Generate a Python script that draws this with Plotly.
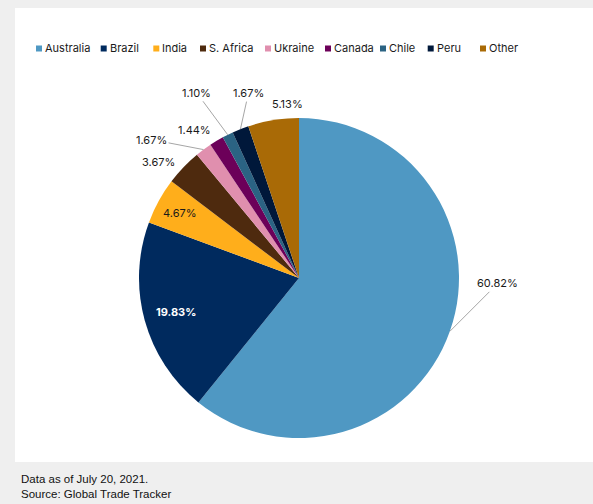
import math
import plotly.graph_objects as go

# ---- data ----
labels = ["Australia", "Brazil", "India", "S. Africa", "Ukraine", "Canada", "Chile", "Peru", "Other"]
shares = [60.82, 19.83, 4.67, 3.67, 1.67, 1.44, 1.10, 1.67, 5.13]
colors = ["#4f98c3", "#002a5e", "#ffae1b", "#4e2a0e", "#e08fae", "#6c0059", "#2b6383", "#00183a", "#a96a06"]

# ---- label styling (layout only) ----
# mode: "in" = inside at radius fraction; "out" = outside with pixel offset from slice edge
label_mode = ["out", "in", "in", "out", "out", "out", "out", "out", "out"]
label_rfrac = [1.0, 0.80, 0.85, 1.0, 1.0, 1.0, 1.0, 1.0, 1.0]
label_off = [(48, -48), (0, 0), (0, 0), (-25, -5), (-52, -10), (-22, -11), (-31, -42), (8, -36), (14, -16)]
label_leader = [True, False, False, False, True, False, True, True, False]
label_color = ["#1a1a1a", "#ffffff", "#1a1a1a", "#1a1a1a", "#1a1a1a", "#1a1a1a", "#1a1a1a", "#1a1a1a", "#1a1a1a"]
label_bold = [False, True, False, False, False, False, False, False, False]

legend_x = [36, 100.7, 153.3, 200, 265, 325, 380, 427.7, 480]
legend_y = 48.5

W, H = 593, 504
cx, cy, r = 299, 278, 160

FONT = "Inter, Roboto, Arial, sans-serif"
FOOT = "Liberation Sans, Arial, sans-serif"

def px(x):
    return x / W

def py(y):
    return 1 - y / H

fig = go.Figure(go.Pie(
    labels=labels,
    values=shares,
    sort=False,
    direction="clockwise",
    rotation=0,
    marker=dict(colors=colors, line=dict(width=0)),
    textinfo="none",
    hoverinfo="label+percent",
    showlegend=False,
    domain=dict(x=[px(cx - r), px(cx + r)], y=[py(cy + r), py(cy - r)]),
))

annotations = []
total = sum(shares)
cum = 0.0
for i, v in enumerate(shares):
    mid = (cum + v / 2) / total * 2 * math.pi
    cum += v
    rr = r * label_rfrac[i]
    ex = cx + rr * math.sin(mid)
    ey = cy - rr * math.cos(mid)
    txt = f"{v:.2f}%"
    if label_bold[i]:
        txt = f"<b>{txt}</b>"
    if label_mode[i] == "in":
        annotations.append(dict(x=px(ex), y=py(ey), xref="paper", yref="paper", text=txt,
                                showarrow=False, xanchor="center", yanchor="middle",
                                font=dict(family=FONT, size=11, color=label_color[i])))
    else:
        ox, oy = label_off[i]
        annotations.append(dict(x=px(ex), y=py(ey), xref="paper", yref="paper", text=txt,
                                showarrow=True, ax=ox, ay=oy, axref="pixel", ayref="pixel",
                                arrowhead=0, arrowwidth=1,
                                arrowcolor="#a6a6a6" if label_leader[i] else "rgba(0,0,0,0)",
                                font=dict(family=FONT, size=11, color=label_color[i])))

shapes = [dict(type="rect", xref="paper", yref="paper", x0=px(15), x1=1, y0=py(462), y1=py(8),
               fillcolor="#ffffff", line=dict(width=0), layer="below")]

# legend keys built from the label/colour lists
for i, name in enumerate(labels):
    x0 = legend_x[i]
    shapes.append(dict(type="rect", xref="paper", yref="paper",
                       x0=px(x0), x1=px(x0 + 6), y0=py(legend_y + 3), y1=py(legend_y - 3),
                       fillcolor=colors[i], line=dict(width=0)))
    annotations.append(dict(x=px(x0 + 7), y=py(legend_y), xref="paper", yref="paper", text=name,
                            showarrow=False, xanchor="left", yanchor="middle",
                            font=dict(family=FONT, size=11, color="#1a1a1a")))

annotations.append(dict(text="Data as of July 20, 2021.<br>Source: Global Trade Tracker", xref="paper", yref="paper",
                        x=px(19), y=py(471), xanchor="left", yanchor="top", align="left", showarrow=False,
                        font=dict(family=FOOT, size=11.5, color="#111111")))

fig.update_layout(
    width=W, height=H,
    margin=dict(l=0, r=0, t=0, b=0),
    paper_bgcolor="#efefef",
    font=dict(family=FONT, size=11, color="#111111"),
    showlegend=False,
    shapes=shapes,
    annotations=annotations,
)

fig.write_html("out.html")
